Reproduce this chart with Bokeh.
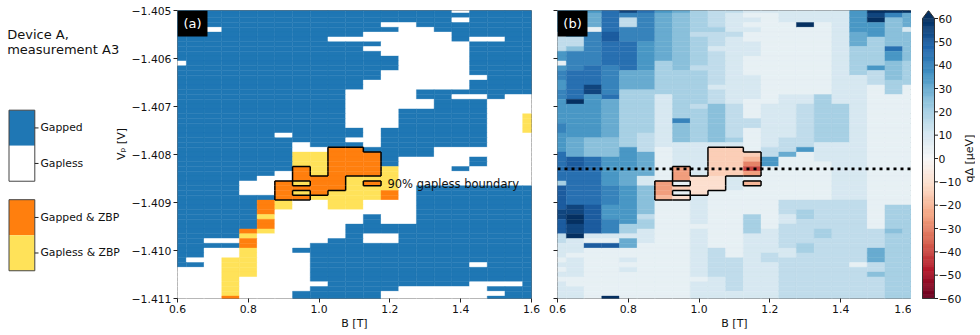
import math
from bokeh.plotting import figure
from bokeh.models import (ColumnDataSource, Range1d, FixedTicker, Label, BoxAnnotation, Span)
from bokeh.layouts import row
from bokeh.embed import file_html
from bokeh.resources import INLINE
from bokeh.core.properties import value
from bokeh.transform import factor_cmap, linear_cmap

FONT = "DejaVu Sans"

# ---------------- data ----------------
b_values = [0.60, 0.65, 0.70, 0.75, 0.80, 0.85, 0.90, 0.95, 1.00, 1.05, 1.10,
            1.15, 1.20, 1.25, 1.30, 1.35, 1.40, 1.45, 1.50, 1.55, 1.60]
vp_values = [round(-1.4050 - 0.0001 * j, 4) for j in range(61)]   # measured gate voltages

x_ticks = [0.6, 0.8, 1.0, 1.2, 1.4, 1.6]
x_tick_labels = ["0.6", "0.8", "1.0", "1.2", "1.4", "1.6"]
y_ticks = [-1.411, -1.410, -1.409, -1.408, -1.407, -1.406, -1.405]
y_tick_labels = ["\u22121.411", "\u22121.410", "\u22121.409", "\u22121.408", "\u22121.407", "\u22121.406", "\u22121.405"]
cb_ticks = [-60, -50, -40, -30, -20, -10, 0, 10, 20, 30, 40, 50, 60]
cb_tick_labels = ["\u221260", "\u221250", "\u221240", "\u221230", "\u221220", "\u221210", "0",
                  "10", "20", "30", "40", "50", "60"]

# panel (a): phase per cell, rows from Vp=-1.4050 (top) down to -1.4110
# B = gapped, W = gapless, O = gapped & ZBP, Y = gapless & ZBP
category_codes = ["B", "W", "O", "Y"]
category_names = ["Gapped", "Gapless", "Gapped & ZBP", "Gapless & ZBP"]
category_colors = ["#1f77b4", "#ffffff", "#ff7f0e", "#ffe259"]
phase_rows = [
    "BBBBBBBBBBBBBBBBWBBBB",
    "BBBBBBBBBBBBBBBBBBBBB",
    "BBBBBBBBBBBBBBBBWBBBB",
    "BBBBBBBBBBBBWWBBBBBBB",
    "BBWBBBBBBBBBBWWBBBBBB",
    "BBBBBBBBBBBWWWWWBBBBB",
    "BBBBBBBBBWWWWWWWBWWBB",
    "BBBBBBBBBBBBWWWWWBBBB",
    "BBBBBBBBBBBWWWWWWBBBB",
    "BBBBBBBBBBBBWWWWWBBBB",
    "BBBBBBBBBBBBBWWWWBBBB",
    "WBBBBBBBBBBBBWWWWBBBB",
    "BBBBBBBBBBBBBWWWWBBBB",
    "BBBBBBBBBBBBWWWWWBBBB",
    "BBBBBBBBBBBBWWWWWWBBB",
    "BBBBBBBBBBBWWWWWWBBBB",
    "BBBBBBBBBBBWWWWWWBBBB",
    "BBBBBBBBBBWWWWBBBBBBB",
    "BBBBBBBBBBWWWWBBWWBWW",
    "BBBBBBBBBBWWWWWBBBWWW",
    "BBBBBBBBBBWWWWWBBBWWW",
    "BBBBBBBBBBWWWBBBBBWWW",
    "BBBBBBBBBBWWWBBBBBWWY",
    "BBBBBBBBBBWWWBBBBBWWY",
    "BBBBBBBBBBWWWBBBBBWWY",
    "BBBBBBBBBBBWBBBBBBWWY",
    "BBBBBBWBBBBWBBBBBBWWW",
    "BBBBBBBBBBWWBBBBBBWWW",
    "BBBBBBBWBBBWBBBBBBWWW",
    "BBBBBBBWWOOBBBBWWWWWW",
    "BBBBBBBYYOOOBBBWWWWWW",
    "BBBBBBBYYOOOBWWWWBWWW",
    "BBBBBBBYYOOOBWWWWBWWW",
    "BBBBBBBOYOOOYWWWBWWWW",
    "BBBBBBWOYOOOYWWWWWWWW",
    "BBBBBWWOOOYYYWWWWWWWW",
    "BBBBWWOYOOYOYWWWWWWWW",
    "BBBBWWOOOOYYYWBBBBBBB",
    "BBBBWWOYOYYYOWBBBBBBB",
    "BBBBBBOOYYYYOWBBBBBBB",
    "BBBBBOYWWYYWWWBBBBBBB",
    "BBBBBOYWWYYWWWBBBBBBB",
    "BBBBBOWWWWWWWWBBBBBBB",
    "BBBBBYWWWWWBWWBBBBBBB",
    "BBBBBOWWWWWBWWBBBBBBB",
    "BBBBBOWWWWBBBBBBBBBBB",
    "BBBBOYWWWWBBBBBBBBBBB",
    "BBBBYWWWWWBWWBBBBBBBB",
    "BBWWOWWWWBBWWBBBBBBBB",
    "BBBBOWWWBBBBBBBBBBBBB",
    "BBWWYWWBBBBBBBBBBBBBB",
    "BBWWYWWWBBBBBBBBBBBBB",
    "BWWYYWWWBBBBBBBBBBBBB",
    "BBWYYWWWBBBBBBBBBWBBB",
    "WWWYYWWWBBBBBBBBBBBBB",
    "WWWYYWWWBBBBBBBBBBBBB",
    "WWWYWWWWBBBBBBBBBBBBB",
    "WWWYWWWWWBBBBBBBBWWWB",
    "WWWYWWWWBBBBBWWWWWBBB",
    "WWWYWWWBBBBBWWWWWWWBB",
    "WWWOWWWBBBBBWWWWWWBBB",
]

# panel (b): q*Delta [ueV], one string per B column, rows from top (-1.4050) to bottom (-1.4110)
gap_code = {"0": 0, "1": 5, "2": 10, "3": 15, "4": 20, "5": 25, "6": 30, "7": 35, "8": 40,
            "9": 45, "A": 50, "B": 55, "C": 60, "a": -5, "b": -10, "c": -15, "d": -20,
            "e": -25, "f": -30, "g": -35, "h": -40, "i": -45}
gap_columns = [
    "77777" "3333" "77" "1" "788778877" "777887777" "999999" "4" "AAAAABBAAA" "33" "222121212222",
    "777777" "33" "5" "8888" "999999" "C" "7777777" "6666" "AAA" "9999999" "BBCCBB" "C" "2" "221222211222",
    "7" "666" "1" "8888888" "9999" "BB" "777777777" "5555" "9999999999" "AAAAAA" "2" "1" "A" "11111111111",
    "99999" "AA" "99999" "888888" "9" "66666666" "5555" "777777" "8888777888" "2" "1" "A" "1111111111" "C",
    "B" "8" "33" "888" "999999" "6666" "444444444444" "77777" "666" "77777777" "44" "2" "66" "11212111111",
    "9" "888888" "777777" "6666" "444444444" "3333" "66666" "22" "555555" "3" "44" "222111111111111",
    "7" "6666666666" "4444444" "22222222222" "1111111" "eee" "d" "111111111111111111111",
    "6" "555555555555" "4444444444" "8" "5555" "22222" "eee" "1" "c" "1" "b" "111111111111111111111",
    "444443444444344444443" "4444444" "2222222" "bbbb" "2222221222222222212222",
    "33334333233333332333" "55555555" "2" "cccccc" "bbb" "111111111111" "333333" "22222",
    "32222322222222222222" "3333333" "4" "2" "cccccc" "22211111111111111" "3333333" "22",
    "21212112221111222221111" "33" "11111" "c" "d" "f" "h" "e" "1" "d" "111111" "4444" "22222222222222",
    "21111111111111111111" "222222222" "33" "77" "1111111111111" "222223322222222",
    "222111111111111111" "222222222" "333" "6" "111111111" "333223333322333333333",
    "222" "C" "11111111111111" "22" "333333333" "7" "1111111111" "334433333443333333333",
    "222111111111111111" "4444444444" "222211111111" "333333443333333333333",
    "22222222222222222222" "44444444" "222222222222" "333333333333333333333",
    "77777" "666" "444444" "22222222222222222222222222" "3333333333333" "1" "3333333",
    "CBC" "777" "444" "444" "7" "333" "111111111111111111111111111111" "3333" "666" "33" "5" "33333",
    "C" "8" "555555" "9" "77" "5555" "444" "11111111111111111111111" "44444544444444444444",
    "C" "666" "2" "555555" "44444" "1111111111111111111111111" "44444444444444444444",
]

# cells inside the 90% gapless boundary (rows from Vp index 29)
boundary_first_row = 29
boundary_rows = [
    "000000000110000000000",
    "000000000111000000000",
    "000000000111000000000",
    "000000000111000000000",
    "000000010111000000000",
    "000000010111000000000",
    "000000011100000000000",
    "000000101101000000000",
    "000000111100000000000",
    "000000101000000000000",
    "000000110000000000000",
]
linecut_vp = -1.4083

# matplotlib RdBu anchors (low -> high)
rdbu_anchors = ["#67001f", "#b2182b", "#d6604d", "#f4a582", "#fddbc7", "#f7f7f7",
                "#d1e5f0", "#92c5de", "#4393c3", "#2166ac", "#053061"]


def hex2rgb(h):
    return tuple(int(h[i:i + 2], 16) for i in (1, 3, 5))


def build_palette(anchors, n=256):
    rgb = [hex2rgb(a) for a in anchors]
    out = []
    for i in range(n):
        t = i / (n - 1) * (len(rgb) - 1)
        k = min(int(t), len(rgb) - 2)
        f = t - k
        c = [round(rgb[k][m] + (rgb[k + 1][m] - rgb[k][m]) * f) for m in range(3)]
        out.append("#%02x%02x%02x" % tuple(c))
    return out


rdbu = build_palette(rdbu_anchors)
NR = len(vp_values)

# ---------------- sources ----------------
xa, ya, ca = [], [], []
for j, rs in enumerate(phase_rows):
    rs = (rs + rs[-1] * 21)[:21]
    for k, ch in enumerate(rs):
        xa.append(b_values[k]); ya.append(vp_values[j]); ca.append(ch)
src_a = ColumnDataSource(dict(B=xa, Vp=ya, cat=ca))

xb, yb, gb = [], [], []
for k, cs in enumerate(gap_columns):
    cs = (cs + cs[-1] * NR)[:NR]
    for j, ch in enumerate(cs):
        xb.append(b_values[k]); yb.append(vp_values[j]); gb.append(gap_code[ch])
src_b = ColumnDataSource(dict(B=xb, Vp=yb, gap=gb))

dB = b_values[1] - b_values[0]
dV = abs(vp_values[1] - vp_values[0])
mask = set()
for i, rs in enumerate(boundary_rows):
    for k, ch in enumerate(rs):
        if ch == "1":
            mask.add((boundary_first_row + i, k))
sx0, sy0, sx1, sy1 = [], [], [], []
for (j, k) in mask:
    l, r = b_values[k] - dB / 2, b_values[k] + dB / 2
    t, btm = vp_values[j] + dV / 2, vp_values[j] - dV / 2
    if (j - 1, k) not in mask:
        sx0.append(l); sy0.append(t); sx1.append(r); sy1.append(t)
    if (j + 1, k) not in mask:
        sx0.append(l); sy0.append(btm); sx1.append(r); sy1.append(btm)
    if (j, k - 1) not in mask:
        sx0.append(l); sy0.append(t); sx1.append(l); sy1.append(btm)
    if (j, k + 1) not in mask:
        sx0.append(r); sy0.append(t); sx1.append(r); sy1.append(btm)
src_seg = ColumnDataSource(dict(x0=sx0, y0=sy0, x1=sx1, y1=sy1))

TICK_FS = "10.8px"
LAB_FS = "11px"
TOP = 10          # frame top (px)
FH = 288          # frame height (px)


def style_axes(p):
    p.grid.visible = False
    p.outline_line_color = "#6f6f6f"
    p.outline_line_width = 1
    for ax in p.axis:
        ax.axis_line_color = None
        ax.major_tick_in = 0
        ax.major_tick_out = 4
        ax.major_tick_line_color = "#222222"
        ax.minor_tick_line_color = None
        ax.major_label_text_font = FONT
        ax.major_label_text_font_size = TICK_FS
        ax.major_label_text_color = "#111111"
        ax.major_label_standoff = 2
        ax.axis_label_text_font = FONT
        ax.axis_label_text_font_size = LAB_FS
        ax.axis_label_text_font_style = "normal"
        ax.axis_label_text_color = "#111111"


def make_panel(min_left, min_right, show_y):
    p = figure(frame_width=354, frame_height=FH, x_range=Range1d(0.6, 1.6),
               y_range=Range1d(-1.411, -1.405), min_border_left=min_left,
               min_border_right=min_right, min_border_top=TOP, min_border_bottom=0,
               toolbar_location=None, tools="", output_backend="svg")
    style_axes(p)
    p.xaxis.ticker = FixedTicker(ticks=x_ticks)
    p.xaxis.major_label_overrides = {t: s for t, s in zip(x_ticks, x_tick_labels)}
    p.xaxis.axis_label = "B [T]"
    p.xaxis.axis_label_standoff = 1
    p.yaxis.ticker = FixedTicker(ticks=y_ticks)
    if show_y:
        p.yaxis.major_label_overrides = {t: s for t, s in zip(y_ticks, y_tick_labels)}
    else:
        p.yaxis.major_label_overrides = {t: "" for t in y_ticks}
    return p


# ---------------- panel (a) ----------------
pa = make_panel(48, 10, True)
cmap_a = factor_cmap("cat", palette=category_colors, factors=category_codes)
pa.rect(x="B", y="Vp", width=dB, height=dV, source=src_a, fill_color=cmap_a,
        line_color=cmap_a, line_width=0.4)
pa.segment(x0="x0", y0="y0", x1="x1", y1="y1", source=src_seg, line_color="black", line_width=1.5)
pa.add_layout(Label(x=1.193, y=-1.40861, text="90% gapless boundary", text_font=FONT,
                    text_font_size="11.5px", text_color="#111111", text_baseline="middle"))

# ---------------- panel (b) ----------------
pb = make_panel(16, 0, False)
cmap_b = linear_cmap("gap", palette=rdbu, low=-60, high=60, high_color=rdbu[-1], low_color=rdbu[0])
pb.rect(x="B", y="Vp", width=dB, height=dV, source=src_b, fill_color=cmap_b,
        line_color=cmap_b, line_width=0.4)
pb.add_layout(Span(location=linecut_vp, dimension="width", line_color="black",
                   line_dash="3 4", line_width=2.6))
pb.segment(x0="x0", y0="y0", x1="x1", y1="y1", source=src_seg, line_color="black", line_width=1.5)

for p, tag in ((pa, "(a)"), (pb, "(b)")):
    p.add_layout(BoxAnnotation(left=0.6, right=0.6847, top=-1.405, bottom=-1.40554,
                               fill_color="black", fill_alpha=1.0, line_color=None))
    p.add_layout(Label(x=0.6424, y=-1.405271, text=tag, text_font=FONT, text_font_size="13px",
                       text_color="white", text_align="center", text_baseline="middle"))

# ---------------- colour bar (own figure, drawn in px-like x units) ----------------
cb_low, cb_high = -60, 60
cb_tip = 63.43
px_per_unit = FH / (cb_tip - cb_low)
extra_bottom = 12
pc = figure(frame_width=64, frame_height=FH + extra_bottom, x_range=Range1d(0, 64),
            y_range=Range1d(cb_low - extra_bottom / px_per_unit, cb_tip),
            min_border_left=0, min_border_right=0, min_border_top=TOP, min_border_bottom=0,
            x_axis_location=None, y_axis_location=None, toolbar_location=None, tools="",
            output_backend="svg")
pc.grid.visible = False
pc.outline_line_color = None
bx0, bx1 = 11, 23
nlev = len(rdbu)
lev = [cb_low + (cb_high - cb_low) * i / nlev for i in range(nlev + 1)]
src_cb = ColumnDataSource(dict(bot=lev[:-1], top=lev[1:], mid=[(a + b) / 2 for a, b in zip(lev[:-1], lev[1:])]))
cmap_cb = linear_cmap("mid", palette=rdbu, low=cb_low, high=cb_high)
pc.quad(left=bx0, right=bx1, bottom="bot", top="top", source=src_cb,
        fill_color=cmap_cb, line_color=cmap_cb, line_width=0.6)
pc.patch(x=[bx0, bx1, (bx0 + bx1) / 2], y=[cb_high, cb_high, cb_tip], fill_color=rdbu[-1], line_color=None)
pc.line(x=[bx0, bx1, bx1, (bx0 + bx1) / 2, bx0, bx0], y=[cb_low, cb_low, cb_high, cb_tip, cb_high, cb_low],
        line_color="#333333", line_width=1)
pc.segment(x0=[bx1] * len(cb_ticks), y0=cb_ticks, x1=[bx1 + 3.5] * len(cb_ticks), y1=cb_ticks,
           line_color="#222222", line_width=1)
pc.text(x=[bx1 + 4] * len(cb_ticks), y=cb_ticks, text=cb_tick_labels, text_font=value(FONT),
        text_font_size=TICK_FS, text_color="#111111", text_baseline="middle", text_align="left")
pc.text(x=[58], y=[(cb_low + cb_high) / 2], text=["q\u0394 [\u03bceV]"], angle=math.pi / 2,
        text_font=value(FONT), text_font_size=LAB_FS, text_color="#111111",
        text_baseline="middle", text_align="center")

# ---------------- left legend column (px coordinates) ----------------
LW, LH = 128, 330
pl = figure(width=LW, height=LH, x_range=Range1d(0, LW), y_range=Range1d(LH, 0), min_border=0,
            x_axis_location=None, y_axis_location=None, toolbar_location=None, tools="",
            output_backend="svg")
pl.grid.visible = False
pl.outline_line_color = None
pl.text(x=[6.7, 6.7], y=[27.8, 45.2], text=["Device A,", "measurement A3"], text_font=value(FONT),
        text_font_size="13px", text_color="#111111", text_baseline="alphabetic")
box_tops = [115.0, 218.3]
seg_h = 41.0
for g, top in enumerate(box_tops):
    names = category_names[2 * g: 2 * g + 2]
    cols = category_colors[2 * g: 2 * g + 2]
    tops = [top + i * seg_h for i in range(2)]
    pl.quad(left=8.5, right=34.3, top=tops, bottom=[t + seg_h for t in tops], fill_color=cols, line_color=None)
    pl.line(x=[8.5, 34.3, 34.3, 8.5, 8.5], y=[top, top, top + 2 * seg_h, top + 2 * seg_h, top],
            line_color="#444444", line_width=1)
    mids = [t + seg_h / 2 for t in tops]
    pl.segment(x0=[34.3] * 2, y0=mids, x1=[38.0] * 2, y1=mids, line_color="#222222", line_width=1)
    pl.text(x=[40.0] * 2, y=mids, text=names, text_font=value(FONT), text_font_size=TICK_FS,
            text_color="#111111", text_baseline="middle")
# y-axis title of panel (a), placed in this column (left of the tick labels)
pl.text(x=[120.5], y=[TOP + FH / 2], text=["V\u209a [V]"], angle=math.pi / 2, text_font=value(FONT),
        text_font_size=LAB_FS, text_color="#111111", text_baseline="middle", text_align="center")

layout = row(pl, pa, pb, pc)
open("out.html", "w").write(file_html(layout, INLINE))
